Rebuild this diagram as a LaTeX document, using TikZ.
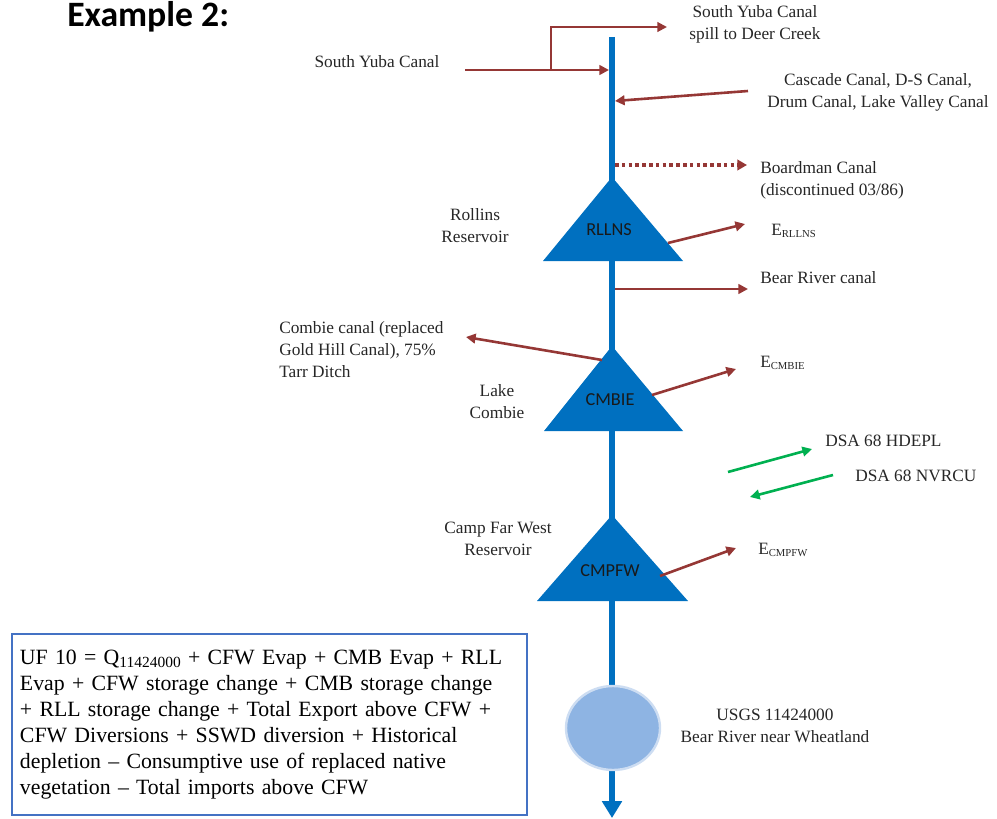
\documentclass[tikz,border=0pt]{standalone}
\usepackage{fontspec}
\setmainfont{Liberation Serif}
\newfontfamily\calibri{Carlito}
\usetikzlibrary{arrows.meta,positioning,shapes.geometric}

\definecolor{riverblue}{RGB}{0,112,192}
\definecolor{canalred}{RGB}{149,55,53}
\definecolor{dsagreen}{RGB}{0,176,80}
\definecolor{gaugeblue}{RGB}{142,180,227}
\definecolor{gaugeedge}{RGB}{205,221,242}
\definecolor{boxblue}{RGB}{68,114,196}

\newcommand\evsub[1]{\raisebox{-1.3pt}{\fontsize{7.6}{9}\selectfont #1}}

\tikzset{
  lbl/.style={inner sep=0pt,align=center,text=black!85,font=\fontsize{12.3}{15.6}\selectfont},
  river/.style={draw=riverblue,line width=1.5mm,-{Triangle[length=4.2mm,width=4.8mm]}},
  flow/.style={draw=canalred,line width=0.65mm,-{Triangle[length=2.4mm,width=2.4mm]}},
  spillline/.style={draw=canalred,line width=0.5mm,-{Triangle[length=2.4mm,width=2.4mm]}},
  dotflow/.style={draw=canalred,line width=1mm,dash pattern=on 0.9mm off 0.8mm,-{Triangle[length=2.4mm,width=2.6mm]}},
  dsaflow/.style={draw=dsagreen,line width=0.65mm,-{Triangle[length=2.4mm,width=2.4mm]}},
  resv/.style={fill=riverblue},
  resvname/.style={inner sep=0pt,text=black!90,font=\calibri\fontsize{13}{15}\selectfont},
  gauge/.style={ellipse,fill=gaugeblue,draw=gaugeedge,line width=0.6mm,minimum width=23.5mm,minimum height=21mm,inner sep=0pt},
  eqbox/.style={draw=boxblue,line width=0.4mm,minimum width=128.75mm,minimum height=45.25mm,
    text width=124.75mm,inner xsep=2mm,align=left,text=black,font=\fontsize{15.5}{18.5}\selectfont}
}

\begin{document}
\begin{tikzpicture}[x=0.25mm,y=-0.25mm]
  \useasboundingbox (0,0) rectangle (997,819);

  % title
  \node[anchor=base west,inner sep=0pt,font=\calibri\bfseries\fontsize{25.4}{28}\selectfont] (title) at (67,27) {Example 2:};

  % main stem of the river
  \coordinate (src) at (612,37);
  \coordinate (mouth) at (612,818);
  \draw[river] (src) -- (mouth);

  % reservoirs
  \fill[resv] (612,177) -- (683,261) -- (543,261) -- cycle;
  \fill[resv] (612,346) -- (683,431) -- (544,431) -- cycle;
  \fill[resv] (612,515) -- (688,601) -- (537,601) -- cycle;
  \node[resvname] (rllns) at (609,230) {RLLNS};
  \node[resvname] (cmbie) at (610,400) {CMBIE};
  \node[resvname] (cmpfw) at (610,571) {CMPFW};

  % gauge
  \node[gauge] (gauge) at (613,728) {};

  % labels
  \node[lbl] (syc) at (377,62) {South Yuba Canal};
  \node[lbl] (spill) at (755,24) {South Yuba Canal\\spill to Deer Creek};
  \node[lbl] (cascade) at (878,92) {Cascade Canal, D-S Canal,\\Drum Canal, Lake Valley Canal};
  \node[lbl,align=left,anchor=west] (boardman) at (760,180) {Boardman Canal\\(discontinued 03/86)};
  \node[lbl] (rollins) at (475,226) {Rollins\\Reservoir};
  \node[lbl,anchor=west] (erllns) at (771,231) {E\evsub{RLLNS}};
  \node[lbl,anchor=west] (bearcanal) at (760,278) {Bear River canal};
  \node[lbl,align=left,anchor=west] (combiecanal) at (279,350) {Combie canal (replaced\\Gold Hill Canal), 75\%\\Tarr Ditch};
  \node[lbl,anchor=west] (ecmbie) at (760,363) {E\evsub{CMBIE}};
  \node[lbl] (lakecombie) at (497,402) {Lake\\Combie};
  \node[lbl,anchor=west] (hdepl) at (825,441) {DSA 68 HDEPL};
  \node[lbl,anchor=west] (nvrcu) at (855,476) {DSA 68 NVRCU};
  \node[lbl] (campfw) at (498,539) {Camp Far West\\Reservoir};
  \node[lbl,anchor=west] (ecmpfw) at (758,550) {E\evsub{CMPFW}};
  \node[lbl] (usgs) at (775,726) {USGS 11424000\\Bear River near Wheatland};

  % canal ends
  \coordinate (sycin) at (465,70);
  \coordinate (sycon) at (609,70);
  \coordinate (split) at (551,70);
  \coordinate (spillend) at (667,27);
  \coordinate (cascadein) at (748,91);
  \coordinate (cascadeon) at (615,101);
  \coordinate (boardoff) at (615,165);
  \coordinate (boardend) at (747,165);
  \coordinate (rllnsevap) at (668,243);
  \coordinate (rllnsend) at (745,224);
  \coordinate (bearoff) at (615,289);
  \coordinate (bearend) at (748,289);
  \coordinate (combieoff) at (602,360);
  \coordinate (combieend) at (466,337);
  \coordinate (cmbieevap) at (652,395);
  \coordinate (cmbieend) at (736,369);
  \coordinate (hdeplin) at (728,472);
  \coordinate (hdeplend) at (812,449);
  \coordinate (nvrcuin) at (833,475);
  \coordinate (nvrcuend) at (750,497);
  \coordinate (cmpfwevap) at (660,576);
  \coordinate (cmpfwend) at (736,548);

  \draw[flow] (sycin) -- (sycon);
  \draw[spillline] (split) |- (spillend);
  \draw[flow] (cascadein) -- (cascadeon);
  \draw[dotflow] (boardoff) -- (boardend);
  \draw[flow] (rllnsevap) -- (rllnsend);
  \draw[flow] (bearoff) -- (bearend);
  \draw[flow] (combieoff) -- (combieend);
  \draw[flow] (cmbieevap) -- (cmbieend);
  \draw[dsaflow] (hdeplin) -- (hdeplend);
  \draw[dsaflow] (nvrcuin) -- (nvrcuend);
  \draw[flow] (cmpfwevap) -- (cmpfwend);

  % unimpaired flow equation
  \node[eqbox] (ufbox) at (269.5,724.5) {UF 10 = Q\raisebox{-2.5pt}{\fontsize{11}{12}\selectfont 11424000} + CFW Evap + CMB Evap + RLL\\
    Evap + CFW storage change + CMB storage change\\
    + RLL storage change + Total Export above CFW +\\
    CFW Diversions + SSWD diversion + Historical\\
    depletion \textendash{} Consumptive use of replaced native\\
    vegetation \textendash{} Total imports above CFW};
\end{tikzpicture}
\end{document}
